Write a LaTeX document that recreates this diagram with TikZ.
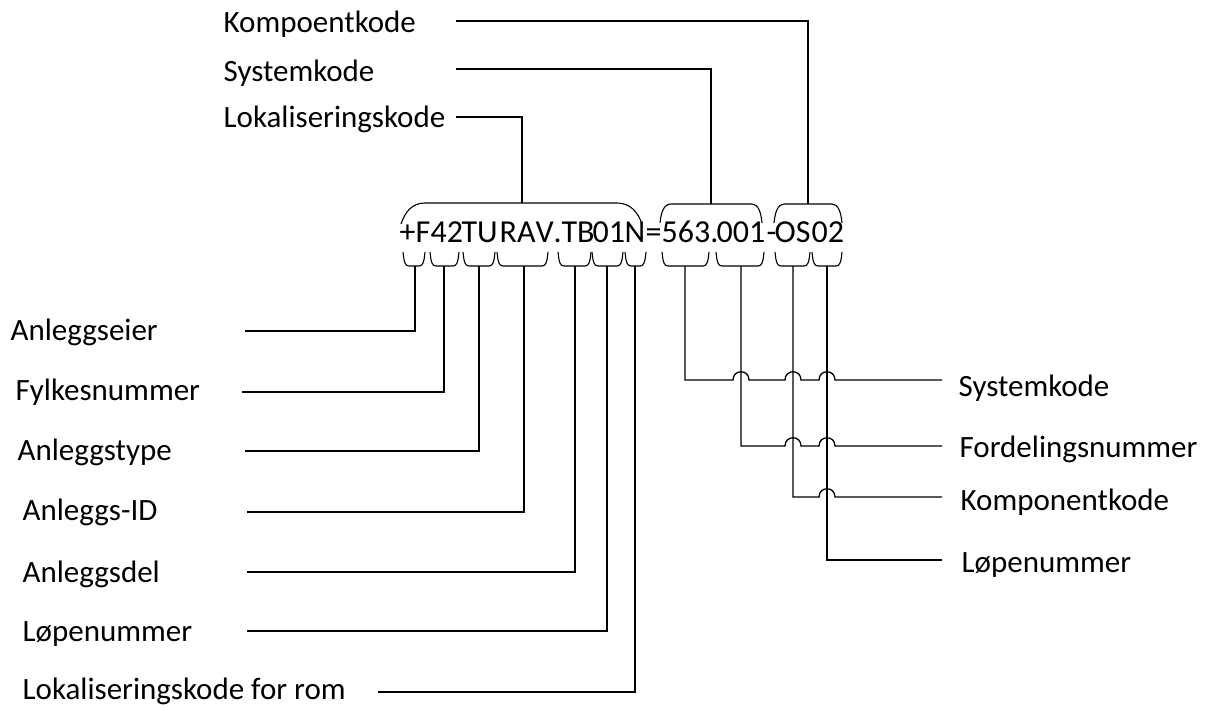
\documentclass[tikz,border=0pt]{standalone}
\usepackage{fontspec}
\setmainfont{Carlito}
\newfontfamily\codefont[Kerning=Off]{Carlito}
\begin{document}
\begin{tikzpicture}[x=1pt,y=-1pt,
  line width=1.3pt,
  txt/.style={inner sep=0pt,anchor=base west,font=\fontsize{31}{37}\selectfont},
  code/.style={inner sep=0pt,anchor=base west,font=\codefont\fontsize{32}{37}\selectfont},
  conn/.style={draw=black,line width=1.3pt},
  brace/.style={draw=black,line width=1.1pt}]
\useasboundingbox (0,0) rectangle (1222,711);

% ---- code string ----
\node[code] (c1) at (399,243) {+F};
\node[code] (c2) at (430,243) {42};
\node[code] (c3) at (461,243) {TU};
\node[code] (c4) at (499,243) {RAV.};
\node[code] (c5) at (561,243) {TB};
\node[code] (c6) at (592,243) {01};
\node[code] (c7) at (624,243) {N};
\node[code] (c8) at (645,243) {=};
\node[code] (c9) at (661,243) {563.};
\node[code] (c10) at (716,243) {001};
\node[code] (c11) at (766,243) {-};
\node[code] (c12) at (774,243) {OS};
\node[code] (c13) at (811,243) {02};

% ---- top braces ----
\draw[brace] (401,224) .. controls (405,212) and (412,203) .. (425,203) -- (617,203) .. controls (630,203) and (638,212) .. (642,224);
\draw[brace] (660,223) .. controls (661,212) and (664,204) .. (671,204) -- (752,204) .. controls (758,204) and (761,212) .. (762,223);
\draw[brace] (774,223) .. controls (775,212) and (778,204) .. (784,204) -- (832,204) .. controls (838,204) and (841,212) .. (842,223);

% ---- bottom small braces ----
\foreach \l/\r in {403/425,430/459,463/495,497/548,558/591,592/623,625/646,662/709,716/764,775/810,812/842}{
  \draw[brace] (\l,252) .. controls (\l+1,262) and (\l+2,266) .. (\l+6,266) -- (\r-6,266) .. controls (\r-2,266) and (\r-1,262) .. (\r,252);
}

% ---- top labels ----
\node[txt] (tk) at (223,33) {Kompoentkode};
\node[txt] (ts) at (223,82) {Systemkode};
\node[txt] (tl) at (223,128) {Lokaliseringskode};
\coordinate (tk0) at (456,21);
\coordinate (ts0) at (456,69);
\coordinate (tl0) at (456,117);
\coordinate (bk) at (808,204);
\coordinate (bs) at (711,204);
\coordinate (bl) at (522,203);
\draw[conn] (tk0) -| (bk);
\draw[conn] (ts0) -| (bs);
\draw[conn] (tl0) -| (bl);

% ---- left labels ----
\node[txt] (l1) at (10,340) {Anleggseier};
\node[txt] (l2) at (15,400) {Fylkesnummer};
\node[txt] (l3) at (17,460) {Anleggstype};
\node[txt] (l4) at (22,520) {Anleggs-ID};
\node[txt] (l5) at (22,582) {Anleggsdel};
\node[txt] (l6) at (22,641) {Løpenummer};
\node[txt] (l7) at (22,699) {Lokaliseringskode for rom};
\coordinate (e1) at (245,331);
\coordinate (e2) at (242,392);
\coordinate (e3) at (245,451);
\coordinate (e4) at (247,512);
\coordinate (e5) at (247,572);
\coordinate (e6) at (247,631);
\coordinate (e7) at (378,692);
\coordinate (s1) at (415,266);
\coordinate (s2) at (444,266);
\coordinate (s3) at (479,266);
\coordinate (s4) at (524,266);
\coordinate (s5) at (575,266);
\coordinate (s6) at (607,266);
\coordinate (s7) at (635,266);
\foreach \i in {1,...,7}{\draw[conn] (e\i) -| (s\i);}

% ---- right labels ----
\node[txt] (r1) at (958,396) {Systemkode};
\node[txt] (r2) at (959,457) {Fordelingsnummer};
\node[txt] (r3) at (960,510) {Komponentkode};
\node[txt] (r4) at (961,572) {Løpenummer};
\coordinate (q1) at (685,266);
\coordinate (q2) at (741,266);
\coordinate (q3) at (793,266);
\coordinate (q4) at (827,266);
\coordinate (f1) at (942,380);
\coordinate (f2) at (942,446);
\coordinate (f3) at (942,497);
\coordinate (f4) at (942,560);
\draw[conn] (q1) |- (733,380) .. controls (733,369) and (749,369) .. (749,380)
  -- (785,380) .. controls (785,369) and (801,369) .. (801,380)
  -- (819,380) .. controls (819,369) and (835,369) .. (835,380) -- (f1);
\draw[conn] (q2) |- (785,446) .. controls (785,435) and (801,435) .. (801,446)
  -- (819,446) .. controls (819,435) and (835,435) .. (835,446) -- (f2);
\draw[conn] (q3) |- (819,497) .. controls (819,486) and (835,486) .. (835,497) -- (f3);
\draw[conn] (q4) |- (f4);
\end{tikzpicture}
\end{document}
